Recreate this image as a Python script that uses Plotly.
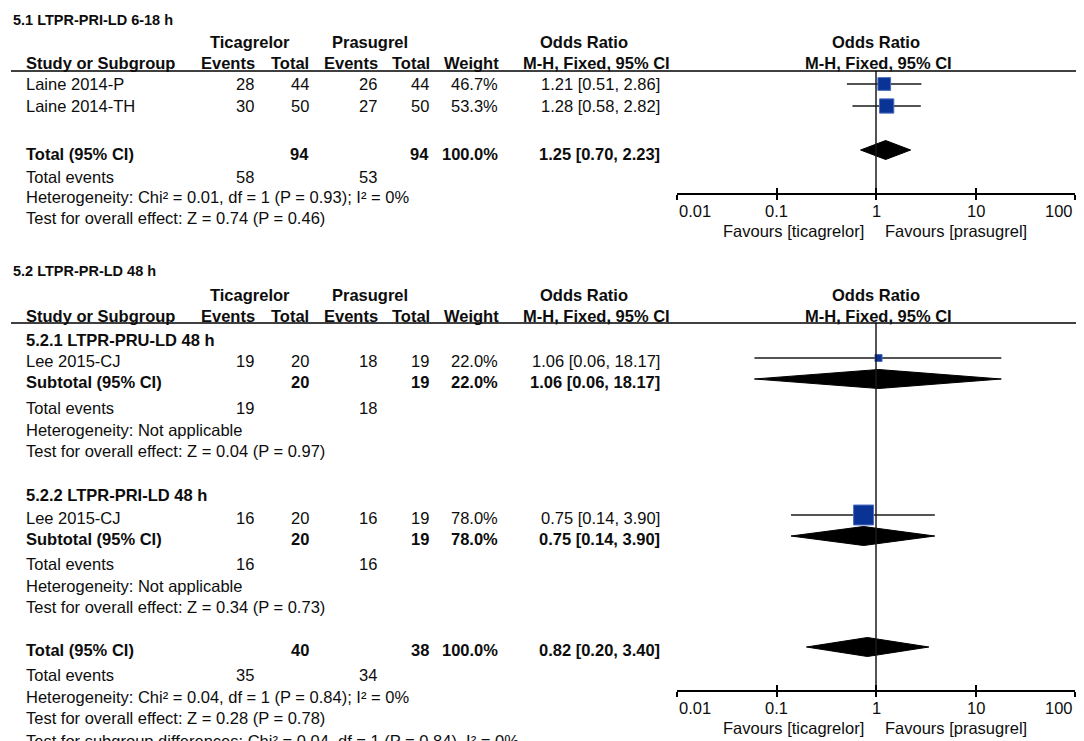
import math
import plotly.graph_objects as go

# ---------------- DATA ----------------
title1 = "5.1 LTPR-PRI-LD 6-18 h"
studies1 = ["Laine 2014-P", "Laine 2014-TH"]
tic_events1 = [28, 30]
tic_total1 = [44, 50]
pra_events1 = [26, 27]
pra_total1 = [44, 50]
weight1 = [46.7, 53.3]
or1 = [1.21, 1.28]
lo1 = [0.51, 0.58]
hi1 = [2.86, 2.82]
total1 = dict(tic_total=94, pra_total=94, weight=100.0, or_=1.25, lo=0.70, hi=2.23,
              tic_events=58, pra_events=53)
het1 = "Heterogeneity: Chi² = 0.01, df = 1 (P = 0.93); I² = 0%"
eff1 = "Test for overall effect: Z = 0.74 (P = 0.46)"

title2 = "5.2 LTPR-PR-LD 48 h"
sub_names = ["5.2.1 LTPR-PRU-LD 48 h", "5.2.2 LTPR-PRI-LD 48 h"]
sub_studies = ["Lee 2015-CJ", "Lee 2015-CJ"]
sub_tic_events = [19, 16]
sub_tic_total = [20, 20]
sub_pra_events = [18, 16]
sub_pra_total = [19, 19]
sub_weight = [22.0, 78.0]
sub_or = [1.06, 0.75]
sub_lo = [0.06, 0.14]
sub_hi = [18.17, 3.90]
sub_het = ["Heterogeneity: Not applicable", "Heterogeneity: Not applicable"]
sub_eff = ["Test for overall effect: Z = 0.04 (P = 0.97)",
           "Test for overall effect: Z = 0.34 (P = 0.73)"]
total2 = dict(tic_total=40, pra_total=38, weight=100.0, or_=0.82, lo=0.20, hi=3.40,
              tic_events=35, pra_events=34)
het2 = "Heterogeneity: Chi² = 0.04, df = 1 (P = 0.84); I² = 0%"
eff2 = "Test for overall effect: Z = 0.28 (P = 0.78)"
subdiff2 = "Test for subgroup differences: Chi² = 0.04, df = 1 (P = 0.84), I² = 0%"

tick_vals = [0.01, 0.1, 1, 10, 100]
tick_text = ["0.01", "0.1", "1", "10", "100"]
fav_left = "Favours [ticagrelor]"
fav_right = "Favours [prasugrel]"

# ---------------- LAYOUT CONSTANTS (pixels) ----------------
W, H = 1084, 741
FONT = "Liberation Sans, Arial, sans-serif"
FS = 16.5
FS_TITLE = 14.5
TXT = "#0d0d0d"
SQ_FILL = "#0a3396"
SQ_LINE = "#4d6cc0"
PLOT_X0, PLOT_X1 = 669, 1067
# columns (right edges)
C_EV1, C_TOT1, C_EV2, C_TOT2, C_WT, C_CI = 248, 303, 371, 423, 492, 654
X_TITLE, X_LABEL = 3, 16
DH = 9.5  # diamond half height

# section 1 rows
S1 = dict(title=12, group=34, header=55, line=63, axis=185,
          rows=[76, 98], total=142, tot_ev=169, het=189, eff=210, ticks=203, fav=223, dy=0)
S2 = dict(title=263, group=287, header=308, line=315, axis=682,
          sub_head=[332, 487], rows=[350, 507], subtot=[371, 528],
          sub_totev=[400, 556], sub_het=[422, 578], sub_eff=[443, 599],
          total=639, tot_ev=667, het=689, eff=710, subdiff=733, ticks=700, fav=720, dy=3)

def px(x):
    return x / W

def py(y):
    return 1 - y / H

annotations = []
shapes = []

def txt(s, x, y, anchor="left", bold=False, size=FS, xref="paper"):
    annotations.append(dict(
        text=f"<b>{s}</b>" if bold else s,
        x=px(x) if xref == "paper" else x, y=py(y), xref=xref, yref="paper",
        xanchor=anchor, yanchor="middle", showarrow=False,
        font=dict(family=FONT, size=size, color=TXT)))

def fmt_ci(o, l, h):
    return f"{o:.2f} [{l:.2f}, {h:.2f}]"

def header(S):
    txt("Ticagrelor", 242, S["group"], "center", True)
    txt("Prasugrel", 362, S["group"], "center", True)
    txt("Odds Ratio", 576, S["group"], "center", True)
    txt("Odds Ratio", 868, S["group"], "center", True)
    txt("Study or Subgroup", X_LABEL, S["header"], "left", True)
    txt("Events", C_EV1 + 1, S["header"], "right", True)
    txt("Total", C_TOT1, S["header"], "right", True)
    txt("Events", C_EV2 + 1, S["header"], "right", True)
    txt("Total", C_TOT2 + 1, S["header"], "right", True)
    txt("Weight", C_WT + 1, S["header"], "right", True)
    txt("M-H, Fixed, 95% CI", 588, S["header"], "center", True)
    txt("M-H, Fixed, 95% CI", 870, S["header"], "center", True)
    shapes.append(dict(type="line", xref="paper", yref="paper", x0=px(3), x1=px(1082),
                       y0=py(S["line"]), y1=py(S["line"]), line=dict(color="black", width=1.5)))

def study_row(name, te, tt, pe, pt, w, o, l, h, y):
    txt(name, X_LABEL, y)
    txt(str(te), C_EV1, y, "right")
    txt(str(tt), C_TOT1, y, "right")
    txt(str(pe), C_EV2, y, "right")
    txt(str(pt), C_TOT2, y, "right")
    txt(f"{w:.1f}%", C_WT, y, "right")
    txt(fmt_ci(o, l, h), C_CI, y, "right")

def total_row(label, tt, pt, w, o, l, h, y):
    txt(label, X_LABEL, y, bold=True)
    txt(str(tt), C_TOT1, y, "right", True)
    txt(str(pt), C_TOT2, y, "right", True)
    txt(f"{w:.1f}%", C_WT, y, "right", True)
    txt(fmt_ci(o, l, h), C_CI, y, "right", True)

def events_row(te, pe, y):
    txt("Total events", X_LABEL, y)
    txt(str(te), C_EV1, y, "right")
    txt(str(pe), C_EV2, y, "right")

def axis_labels(S, xref):
    anchors = ["left", "center", "center", "center", "right"]
    for v, t, a in zip(tick_vals, tick_text, anchors):
        txt(t, math.log10(v), S["ticks"], a, xref=xref)
    txt(fav_left, 858, S["fav"], "right")
    txt(fav_right, 875, S["fav"], "left")

fig = go.Figure()

def add_study(o, l, h, w, y, xa, ya):
    fig.add_trace(go.Scatter(x=[l, h], y=[y, y], mode="lines", xaxis=xa, yaxis=ya,
                             line=dict(color="#1a1a1a", width=1.4), hoverinfo="skip"))
    fig.add_trace(go.Scatter(x=[o], y=[y], mode="markers", xaxis=xa, yaxis=ya,
                             marker=dict(symbol="square", size=2 + 0.23 * w, color=SQ_FILL,
                                         line=dict(color=SQ_LINE, width=1)),
                             hoverinfo="skip"))

def add_diamond(o, l, h, y, xa, ya):
    fig.add_trace(go.Scatter(x=[l, o, h, o, l], y=[y, y - DH, y, y + DH, y], mode="lines",
                             fill="toself", fillcolor="black", xaxis=xa, yaxis=ya,
                             line=dict(color="black", width=1), hoverinfo="skip"))

# ---------------- SECTION 1 ----------------
txt(title1, X_TITLE, S1["title"], bold=True, size=FS_TITLE)
header(S1)
for i, s in enumerate(studies1):
    r = S1["rows"][i]
    study_row(s, tic_events1[i], tic_total1[i], pra_events1[i], pra_total1[i],
              weight1[i], or1[i], lo1[i], hi1[i], r + S1["dy"])
    add_study(or1[i], lo1[i], hi1[i], weight1[i], r, "x", "y")
total_row("Total (95% CI)", total1["tic_total"], total1["pra_total"], total1["weight"],
          total1["or_"], total1["lo"], total1["hi"], S1["total"] + 4)
add_diamond(total1["or_"], total1["lo"], total1["hi"], S1["total"], "x", "y")
events_row(total1["tic_events"], total1["pra_events"], S1["tot_ev"])
txt(het1, X_LABEL, S1["het"])
txt(eff1, X_LABEL, S1["eff"])
axis_labels(S1, "x")
fig.add_trace(go.Scatter(x=[1, 1], y=[S1["line"], S1["axis"]], mode="lines", xaxis="x", yaxis="y",
                         line=dict(color="#1a1a1a", width=1.5), hoverinfo="skip"))

# ---------------- SECTION 2 ----------------
txt(title2, X_TITLE, S2["title"], bold=True, size=FS_TITLE)
header(S2)
for k in range(2):
    txt(sub_names[k], X_LABEL, S2["sub_head"][k], bold=True)
    study_row(sub_studies[k], sub_tic_events[k], sub_tic_total[k], sub_pra_events[k],
              sub_pra_total[k], sub_weight[k], sub_or[k], sub_lo[k], sub_hi[k],
              S2["rows"][k] + S2["dy"])
    add_study(sub_or[k], sub_lo[k], sub_hi[k], sub_weight[k], S2["rows"][k], "x2", "y2")
    total_row("Subtotal (95% CI)", sub_tic_total[k], sub_pra_total[k], sub_weight[k],
              sub_or[k], sub_lo[k], sub_hi[k], S2["subtot"][k] + S2["dy"])
    add_diamond(sub_or[k], sub_lo[k], sub_hi[k], S2["subtot"][k], "x2", "y2")
    events_row(sub_tic_events[k], sub_pra_events[k], S2["sub_totev"][k])
    txt(sub_het[k], X_LABEL, S2["sub_het"][k])
    txt(sub_eff[k], X_LABEL, S2["sub_eff"][k])
total_row("Total (95% CI)", total2["tic_total"], total2["pra_total"], total2["weight"],
          total2["or_"], total2["lo"], total2["hi"], S2["total"] + S2["dy"])
add_diamond(total2["or_"], total2["lo"], total2["hi"], S2["total"], "x2", "y2")
events_row(total2["tic_events"], total2["pra_events"], S2["tot_ev"])
txt(het2, X_LABEL, S2["het"])
txt(eff2, X_LABEL, S2["eff"])
txt(subdiff2, X_LABEL, S2["subdiff"])
axis_labels(S2, "x2")
fig.add_trace(go.Scatter(x=[1, 1], y=[S2["line"], S2["axis"]], mode="lines", xaxis="x2", yaxis="y2",
                         line=dict(color="#1a1a1a", width=1.5), hoverinfo="skip"))

# invisible traces to carry the overlay tick axes
fig.add_trace(go.Scatter(x=[1], y=[S1["axis"]], xaxis="x3", yaxis="y", mode="markers",
                         marker=dict(opacity=0), hoverinfo="skip"))
fig.add_trace(go.Scatter(x=[1], y=[S2["axis"]], xaxis="x4", yaxis="y2", mode="markers",
                         marker=dict(opacity=0), hoverinfo="skip"))

dom_x = [px(PLOT_X0), px(PLOT_X1)]
base_x = dict(type="log", range=[-2, 2], domain=dom_x, showgrid=False, zeroline=False,
              tickvals=tick_vals, showticklabels=False, ticklen=5, tickwidth=1.5,
              tickcolor="black", fixedrange=True)
fig.update_layout(
    width=W, height=H, margin=dict(l=0, r=0, t=0, b=0),
    paper_bgcolor="white", plot_bgcolor="white", showlegend=False,
    xaxis=dict(base_x, anchor="y", ticks="outside", showline=True, linecolor="black", linewidth=1.5),
    xaxis2=dict(base_x, anchor="y2", ticks="outside", showline=True, linecolor="black", linewidth=1.5),
    xaxis3=dict(base_x, anchor="y", overlaying="x", ticks="inside", showline=False),
    xaxis4=dict(base_x, anchor="y2", overlaying="x2", ticks="inside", showline=False),
    yaxis=dict(domain=[py(S1["axis"]), py(S1["line"])], range=[S1["axis"], S1["line"]],
               visible=False, fixedrange=True),
    yaxis2=dict(domain=[py(S2["axis"]), py(S2["line"])], range=[S2["axis"], S2["line"]],
                visible=False, fixedrange=True),
    annotations=annotations, shapes=shapes,
)

fig.write_html("out.html")
